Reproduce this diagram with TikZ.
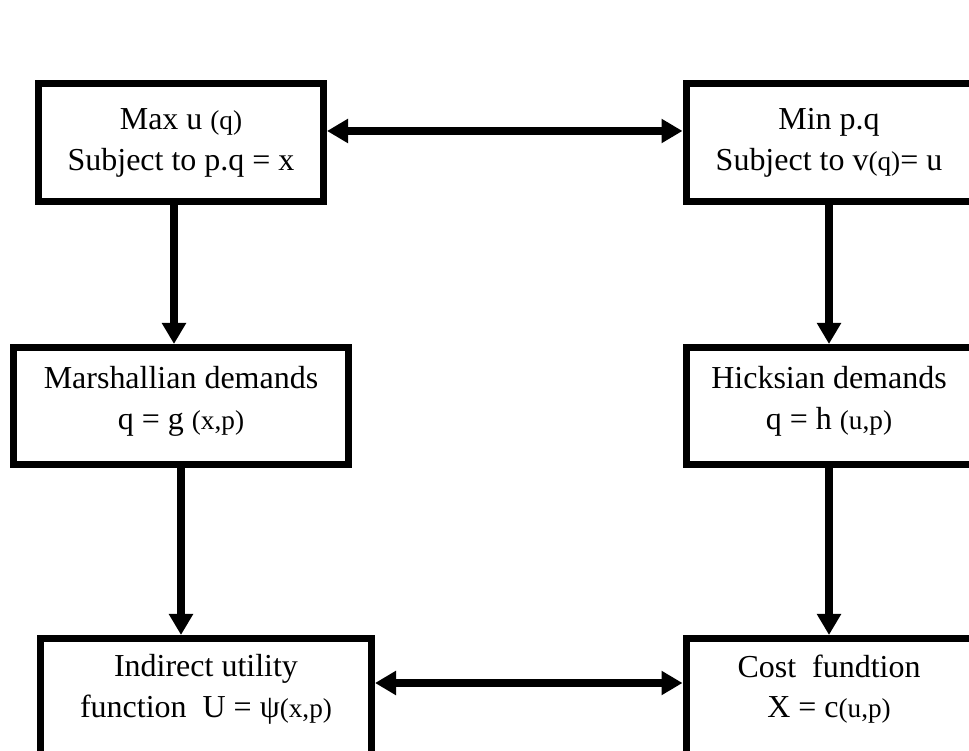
\documentclass[tikz,border=0pt]{standalone}
\usepackage{fontspec}
\setmainfont{Liberation Serif}
\usetikzlibrary{arrows.meta}
\newcommand{\sm}[1]{{\fontsize{15.5}{18}\selectfont #1}}

\begin{document}
\begin{tikzpicture}[
        box/.style={rectangle, draw, line width=0.14cm, align=center, inner sep=0pt,
            font=\fontsize{18.2}{23.3}\selectfont},
        arr/.style={line width=0.16cm, -{Triangle[length=0.42cm, width=0.46cm]}},
        darr/.style={line width=0.16cm, {Triangle[length=0.42cm, width=0.46cm]}-{Triangle[length=0.42cm, width=0.46cm]}}
    ]
        \useasboundingbox (0,0) rectangle (19.38,15.02);
        \clip (0,0) rectangle (19.38,15.02);

        % Nodes
        \node[box, minimum width=5.7cm, minimum height=2.36cm] (maxu) at (3.62, 12.17) {Max u \sm{(q)}\\ Subject to p.q = x};
        \node[box, minimum width=5.72cm, minimum height=2.36cm] (minpq) at (16.58, 12.17) {Min p.q\\ Subject to v\sm{(q)}= u};
        \node[box, minimum width=6.7cm, minimum height=2.34cm, text depth=0.33cm] (marsh) at (3.62, 6.9) {Marshallian demands\\ q = g \sm{(x,p)}};
        \node[box, minimum width=5.72cm, minimum height=2.34cm, text depth=0.33cm] (hicks) at (16.58, 6.9) {Hicksian demands\\ q = h \sm{(u,p)}};
        \node[box, minimum width=6.62cm, minimum height=2.4cm, text depth=0.49cm] (indir) at (4.12, 1.05) {Indirect utility\\ function\ \ U = ψ\sm{(x,p)}};
        \node[box, minimum width=5.72cm, minimum height=2.4cm, text depth=0.49cm] (cost) at (16.58, 1.05) {Cost\ \ fundtion\\ X = c\sm{(u,p)}};

        % Arrows
        \draw[darr] ([yshift=0.23cm]maxu.east) -- ([yshift=0.23cm]maxu.east -| minpq.west);
        \draw[arr] ([xshift=-0.14cm]maxu.south) -- ([xshift=-0.14cm]maxu.south |- marsh.north);
        \draw[arr] (minpq.south) -- (hicks.north);
        \draw[arr] (marsh.south) -- (marsh.south |- indir.north);
        \draw[arr] (hicks.south) -- (cost.north);
        \draw[darr] ([yshift=0.31cm]indir.east) -- ([yshift=0.31cm]indir.east -| cost.west);

    \end{tikzpicture}
\end{document}
